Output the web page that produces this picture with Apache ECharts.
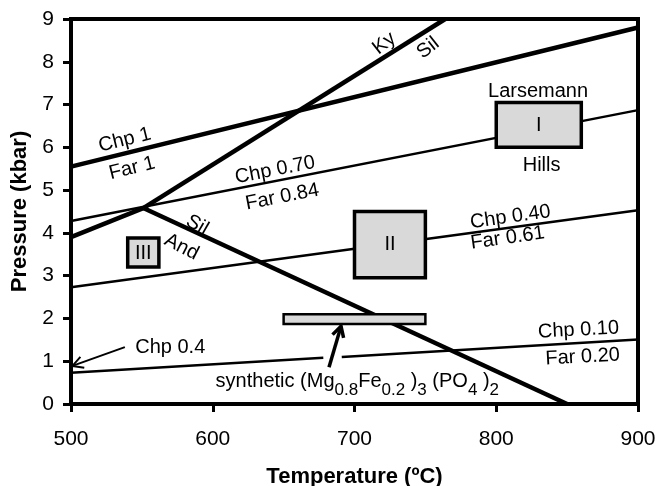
<!DOCTYPE html>
<html>
<head>
<meta charset="utf-8">
<script src="https://cdn.jsdelivr.net/npm/echarts@6/dist/echarts.min.js"></script>
<style>
  html, body { margin: 0; padding: 0; background: #fff; }
  #main { width: 658px; height: 486px; }
</style>
</head>
<body>
<div id="main"></div>
<script>
// axis ticks
var tempTicks = [500, 600, 700, 800, 900];
var presTicks = [0, 1, 2, 3, 4, 5, 6, 7, 8, 9];

// reaction lines [T, P]
var chp1 = [[500, 5.55], [900, 8.8]];
var chp070 = [[500, 4.28], [900, 6.87]];
var chp040 = [[500, 2.73], [900, 4.53]];
var chp010a = [[500, 0.73], [678, 1.08]];
var chp010b = [[691, 1.10], [900, 1.51]];
var andKy = [[500, 3.9], [551, 4.58]];
var kySil = [[551, 4.58], [764, 9]];
var andSil = [[551, 4.58], [850, 0]];

// boxes [Tmin, Tmax, Pmin, Pmax]
var boxI = [800, 860, 6.0, 7.05];
var boxII = [700, 750, 2.95, 4.5];
var boxIII = [540, 562, 3.2, 3.88];
var synthBar = [650, 750, 1.87, 2.1];

// arrows [Tfrom, Pfrom, Tto, Pto]
var arrowSynth = [682, 0.86, 690.5, 1.82];
var arrowChp = [538, 1.33, 501, 0.89];

// annotations
var labelText = ['Chp 1', 'Far 1', 'Chp 0.70', 'Far 0.84', 'Chp 0.40', 'Far 0.61',
  'Chp 0.10', 'Far 0.20', 'Ky', 'Sil', 'Sil', 'And', 'Larsemann', 'Hills',
  'I', 'II', 'III', 'Chp 0.4'];
var labelT = [538, 543, 644, 649, 810, 808, 858, 861, 721, 752, 589, 578, 829.5, 832, 830, 725, 551, 570];
var labelP = [6.17, 5.51, 5.47, 4.84, 4.37, 3.88, 1.73, 1.10, 8.43, 8.32, 4.18, 3.67, 7.31, 5.58, 6.52, 3.73, 3.53, 1.33];
var labelAngle = [14, 14, 11, 11, 8, 8, 3, 3, 38, 38, -30, -27, 0, 0, 0, 0, 0, 0];
var synthLabel = [702, 0.54];

var myChart = echarts.init(document.getElementById('main'));

var font = 'Liberation Sans, Arial, sans-serif';

function lineSeries(data, w) {
  return {
    type: 'line',
    data: data,
    showSymbol: false,
    silent: true,
    z: 3,
    lineStyle: { color: '#000', width: w }
  };
}

// rectangles
function renderBox(params, api) {
  var p1 = api.coord([api.value(0), api.value(3)]);
  var p2 = api.coord([api.value(1), api.value(2)]);
  var thin = params.dataIndex == 3;
  return {
    type: 'rect',
    shape: { x: p1[0], y: p1[1], width: p2[0] - p1[0], height: p2[1] - p1[1] },
    style: { fill: '#d9d9d9', stroke: '#000', lineWidth: thin ? 2.5 : 3.5 }
  };
}

// arrows with open heads
function renderArrow(params, api) {
  var a = api.coord([api.value(0), api.value(1)]);
  var b = api.coord([api.value(2), api.value(3)]);
  var ang = Math.atan2(b[1] - a[1], b[0] - a[0]);
  var len = 12, spread = 0.5;
  var h1 = [b[0] - len * Math.cos(ang - spread), b[1] - len * Math.sin(ang - spread)];
  var h2 = [b[0] - len * Math.cos(ang + spread), b[1] - len * Math.sin(ang + spread)];
  var w = params.dataIndex == 0 ? 3.5 : 2;
  return {
    type: 'group',
    children: [
      { type: 'line', shape: { x1: a[0], y1: a[1], x2: b[0], y2: b[1] }, style: { stroke: '#000', lineWidth: w } },
      { type: 'polyline', shape: { points: [h1, b, h2] }, style: { stroke: '#000', fill: null, lineWidth: w } }
    ]
  };
}

function renderLabel(params, api) {
  var i = api.value(2);
  var p = api.coord([api.value(0), api.value(1)]);
  return {
    type: 'text',
    x: p[0],
    y: p[1],
    rotation: labelAngle[i] * Math.PI / 180,
    style: {
      text: labelText[i],
      fill: '#000',
      fontSize: 20,
      fontFamily: font,
      align: 'center',
      verticalAlign: 'middle'
    }
  };
}

function renderSynth(params, api) {
  var p = api.coord([api.value(0), api.value(1)]);
  return {
    type: 'text',
    x: p[0],
    y: p[1] + 4,
    style: {
      text: '{n|synthetic (Mg}{s|0.8}{n|Fe}{s|0.2}{n| )}{s|3}{n| (PO}{s|4}{n| )}{s|2}',
      align: 'center',
      verticalAlign: 'middle',
      fill: '#000',
      rich: {
        n: { fontSize: 20, fontFamily: font, fill: '#000', lineHeight: 22, padding: [0, 0, 7, 0] },
        s: { fontSize: 17, fontFamily: font, fill: '#000', lineHeight: 19, padding: [10, 0, 0, 0] }
      }
    }
  };
}

var labelData = [];
for (var k = 0; k < labelText.length; k++) {
  labelData.push([labelT[k], labelP[k], k]);
}

var option = {
  animation: false,
  grid: {
    left: 71, right: 20, top: 19, bottom: 82,
    containLabel: false,
    outerBoundsMode: 'none',
    show: true, borderColor: '#000', borderWidth: 4
  },
  xAxis: {
    type: 'value',
    min: tempTicks[0],
    max: tempTicks[tempTicks.length - 1],
    interval: 100,
    name: 'Temperature (ºC)',
    nameLocation: 'middle',
    nameGap: 62,
    nameTextStyle: { color: '#000', fontSize: 22, fontWeight: 'bold', fontFamily: font },
    axisLine: { lineStyle: { color: '#000', width: 4 } },
    axisTick: { length: 8, lineStyle: { color: '#000', width: 3 } },
    axisLabel: { color: '#000', fontSize: 21, fontFamily: font, margin: 25 },
    splitLine: { show: false }
  },
  yAxis: {
    type: 'value',
    min: presTicks[0],
    max: presTicks[presTicks.length - 1],
    interval: 1,
    name: 'Pressure (kbar)',
    nameLocation: 'middle',
    nameGap: 40,
    nameTextStyle: { color: '#000', fontSize: 22, fontWeight: 'bold', fontFamily: font },
    axisLine: { lineStyle: { color: '#000', width: 4 } },
    axisTick: { length: 8, lineStyle: { color: '#000', width: 3 } },
    axisLabel: { color: '#000', fontSize: 21, fontFamily: font, margin: 17 },
    splitLine: { show: false }
  },
  series: [
    lineSeries(chp1, 4.5),
    lineSeries(chp070, 2.5),
    lineSeries(chp040, 2.5),
    lineSeries(chp010a, 2.5),
    lineSeries(chp010b, 2.5),
    lineSeries(andKy, 4.5),
    lineSeries(kySil, 4.5),
    lineSeries(andSil, 4.5),
    {
      type: 'custom',
      renderItem: renderBox,
      data: [boxI, boxII, boxIII, synthBar],
      silent: true,
      z: 5
    },
    {
      type: 'custom',
      renderItem: renderArrow,
      data: [arrowSynth, arrowChp],
      silent: true,
      z: 6
    },
    {
      type: 'custom',
      renderItem: renderLabel,
      data: labelData,
      silent: true,
      clip: false,
      z: 7
    },
    {
      type: 'custom',
      renderItem: renderSynth,
      data: [synthLabel],
      silent: true,
      clip: false,
      z: 7
    }
  ]
};

myChart.setOption(option);
</script>
</body>
</html>
